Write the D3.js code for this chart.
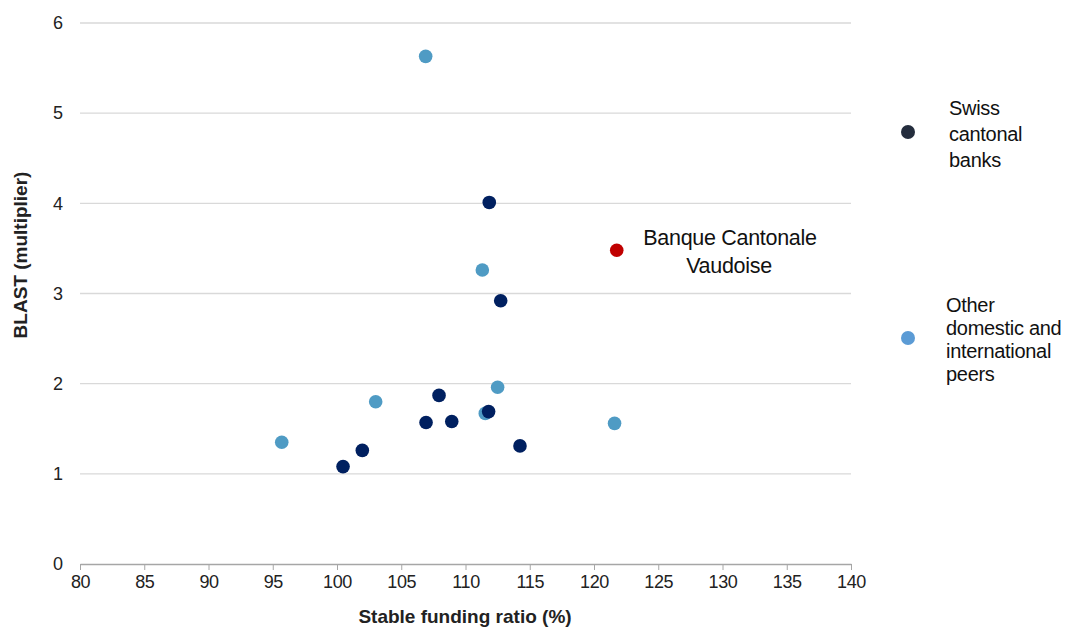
<!DOCTYPE html>
<html>
<head>
<meta charset="utf-8">
<script src="https://cdn.jsdelivr.net/npm/d3@7"></script>
<style>
  body { margin: 0; background: #fff; }
  svg { font-family: "Liberation Sans", Arial, sans-serif; }
</style>
</head>
<body>
<svg id="chart" width="1068" height="627"></svg>
<script>
// Stable funding ratio (%) vs BLAST multiplier
const cantonalX = [111.85, 112.74, 107.94, 106.93, 108.93, 111.8, 101.97, 100.47, 114.24];
const cantonalY = [4.01, 2.92, 1.87, 1.57, 1.58, 1.69, 1.26, 1.08, 1.31];
const peersX = [106.9, 111.31, 112.5, 103.01, 111.54, 95.7, 121.6];
const peersY = [5.63, 3.26, 1.96, 1.80, 1.67, 1.35, 1.56];
const bcvX = [121.77];
const bcvY = [3.48];
const xTicks = [80, 85, 90, 95, 100, 105, 110, 115, 120, 125, 130, 135, 140];
const yTicks = [0, 1, 2, 3, 4, 5, 6];

const svg = d3.select("#chart");
const x = d3.scaleLinear().domain([80, 140]).range([80, 851]);
const y = d3.scaleLinear().domain([0, 6]).range([564, 23]);

// gridlines
svg.append("g")
    .selectAll("line")
    .data(yTicks.filter(d => d > 0))
    .enter().append("line")
    .attr("x1", x(80)).attr("x2", x(140))
    .attr("y1", d => y(d)).attr("y2", d => y(d))
    .attr("stroke", "#d9d9d9")
    .attr("stroke-width", 1.3);

// x axis
const xAxis = svg.append("g")
    .attr("transform", `translate(0,${y(0)})`)
    .call(d3.axisBottom(x).tickValues(xTicks).tickSize(6).tickSizeOuter(0).tickPadding(5));
xAxis.select(".domain").attr("stroke", "#a6a6a6").attr("stroke-width", 1.3);
xAxis.selectAll(".tick line").attr("stroke", "#a6a6a6");
xAxis.selectAll("text").attr("font-size", 18).attr("fill", "#222").attr("letter-spacing", "-0.4");

// y axis labels
const yAxis = svg.append("g")
    .attr("transform", `translate(${x(80)},0)`)
    .call(d3.axisLeft(y).tickValues(yTicks).tickFormat(d3.format("d")).tickSize(0).tickPadding(17));
yAxis.select(".domain").remove();
yAxis.selectAll("text").attr("font-size", 18).attr("fill", "#222");

// axis titles
svg.append("text")
    .attr("x", 465).attr("y", 623)
    .attr("text-anchor", "middle")
    .attr("font-size", 19).attr("font-weight", "bold").attr("fill", "#222")
    .text("Stable funding ratio (%)");
svg.append("text")
    .attr("transform", "translate(27,255) rotate(-90)")
    .attr("text-anchor", "middle")
    .attr("font-size", 19).attr("font-weight", "bold").attr("fill", "#222")
    .text("BLAST (multiplier)");

// points
function drawSeries(xs, ys, color) {
    svg.append("g")
        .selectAll("circle")
        .data(xs.map((d, i) => [d, ys[i]]))
        .enter().append("circle")
        .attr("cx", d => x(d[0]))
        .attr("cy", d => y(d[1]))
        .attr("r", 6.8)
        .attr("fill", color);
}
drawSeries(peersX, peersY, "#4f9bc4");
drawSeries(cantonalX, cantonalY, "#002060");
drawSeries(bcvX, bcvY, "#c00000");

// annotation
const ann = svg.append("text")
    .attr("text-anchor", "middle")
    .attr("font-size", 21.5).attr("fill", "#111").attr("letter-spacing", "-0.3");
ann.append("tspan").attr("x", 730).attr("y", 245).text("Banque Cantonale");
ann.append("tspan").attr("x", 729).attr("y", 273).text("Vaudoise");

// legend
const legend = [
    { color: "#242d3d", cy: 132, lines: ["Swiss", "cantonal", "banks"], ty: 115, lh: 26, tx: 949 },
    { color: "#5b9bd5", cy: 338, lines: ["Other", "domestic and", "international", "peers"], ty: 312, lh: 23, tx: 946 }
];
legend.forEach(l => {
    svg.append("circle").attr("cx", 908).attr("cy", l.cy).attr("r", 7).attr("fill", l.color);
    const t = svg.append("text").attr("font-size", 20).attr("fill", "#111").attr("letter-spacing", "-0.3");
    l.lines.forEach((s, i) => t.append("tspan").attr("x", l.tx).attr("y", l.ty + i * l.lh).text(s));
});
</script>
</body>
</html>
